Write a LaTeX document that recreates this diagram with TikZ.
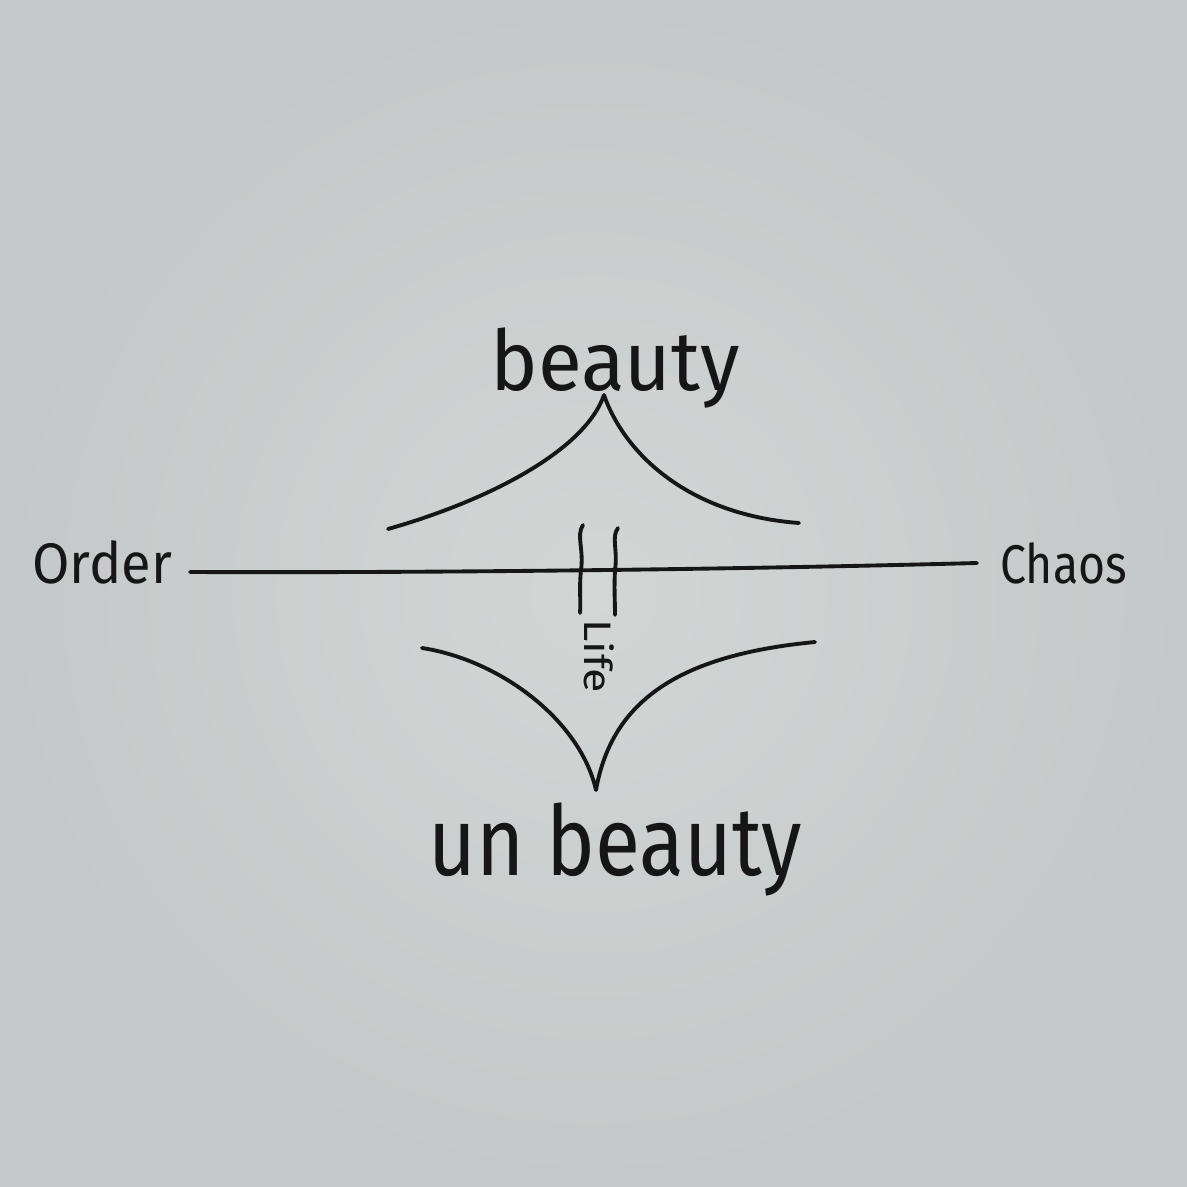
\documentclass[tikz,border=0pt]{standalone}
\usepackage{fontspec}
\setmainfont{Fira Sans}
\usepackage{graphicx}
\definecolor{paperlight}{RGB}{211,214,213}
\definecolor{paperdark}{RGB}{197,200,200}
\definecolor{ink}{RGB}{22,22,22}
\tikzset{
  pen/.style={ink, line width=2.2pt, line cap=round, line join=round},
  word/.style={ink, inner sep=0pt, anchor=base west},
}
\begin{document}
\begin{tikzpicture}[x=0.02cm, y=-0.02cm]
  % 1. paper background (fixes the page size)
  \shade[inner color=paperlight, outer color=paperdark] (0,0) rectangle (1187,1187);
  \useasboundingbox (0,0) rectangle (1187,1187);

  % 2. words
  \node[word] (order) at (32,583) {\resizebox{79.4pt}{24.4pt}{Order}};
  \node[word] (chaos) at (1000,583) {\resizebox{72pt}{23.2pt}{Chaos}};
  \node[word] (beauty) at (490,390) {\resizebox{141.7pt}{35.7pt}{beauty}};
  \node[word] (unbeauty) at (428,875) {\resizebox{212.6pt}{41.4pt}{un beauty}};
  \node[word, rotate=-90] (life) at (584,619) {\resizebox{42pt}{17pt}{Life}};

  % 3. the order--chaos axis
  \coordinate (axisL) at (190,572);
  \coordinate (axisR) at (977,563);
  \draw[pen] (axisL) .. controls (450,573) and (750,569) .. (axisR);

  % 4. the two cusps
  \draw[pen] (388,529) .. controls (490,500) and (585,450) .. (604,395)
                       .. controls (625,455) and (690,515) .. (799,523);
  \draw[pen] (422,648) .. controls (500,660) and (580,720) .. (596,790)
                       .. controls (612,700) and (680,655) .. (815,642);

  % 5. the life marks across the axis
  \draw[pen] (583,525) .. controls (576,535) and (584,550) .. (581,570)
                       .. controls (579,590) and (581,600) .. (580,613);
  \draw[pen] (618,528) .. controls (611,537) and (618,550) .. (615,570)
                       .. controls (614,590) and (615,600) .. (615,615);
\end{tikzpicture}
\end{document}
